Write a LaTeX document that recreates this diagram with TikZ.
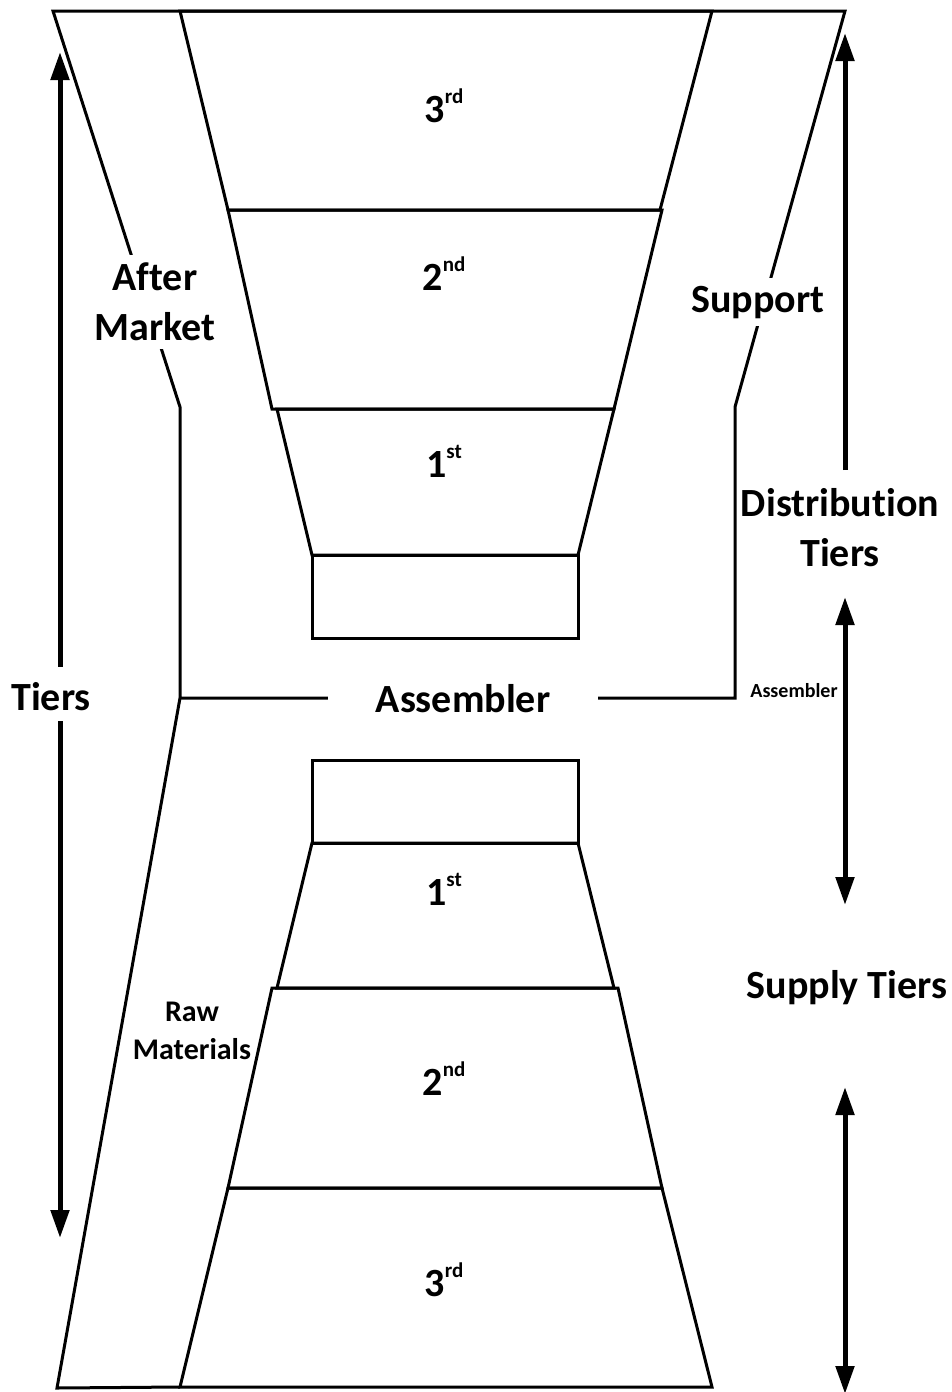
\documentclass[tikz,border=0pt]{standalone}
\usepackage{fontspec}
\setmainfont{Carlito}[Ligatures=NoCommon]
\usepackage{tikz}
\usetikzlibrary{arrows.meta}
\newcommand{\ordtier}[2]{#1\raisebox{9.5pt}{\fontsize{10.5}{12}\selectfont #2}}
\tikzset{
	>={Triangle[length=14pt,width=9pt]},
	outline/.style={black, line width=1.5pt, line join=miter},
	tierbox/.style={black, line width=1.5pt, line join=miter},
	span/.style={black, line width=2.5pt},
	tierlabel/.style={font=\fontsize{20}{24}\selectfont\bfseries, anchor=base, inner sep=0pt},
	biglabel/.style={font=\fontsize{20}{25}\selectfont\bfseries, align=center},
	cover/.style={fill=white, inner sep=4pt},
	smalllabel/.style={font=\fontsize{10}{12}\selectfont\bfseries, anchor=base, inner sep=0pt},
}

\begin{document}
\begin{tikzpicture}[x=0.5pt,y=-0.5pt]
	\useasboundingbox (0,0) rectangle (952,1392);
	
	% outer frame: after market on the left, support on the right
	\draw[outline] (180,1387) -- (57,1388) -- (180,698) -- (180,407) -- (53,11)
		-- (845,11) -- (735,407) -- (735,698) -- (180,698);
	
	% distribution tiers (top half)
	\draw[tierbox] (180,11) -- (712,11) -- (660,210) -- (228,210) -- cycle;
	\draw[tierbox] (228,210) -- (662,210) -- (614,409) -- (272,409) -- cycle;
	\draw[tierbox] (277,409) -- (614,409) -- (578,555) -- (312,555) -- cycle;
	\draw[tierbox] (312,555) rectangle (578,638);
	
	% supply tiers (bottom half)
	\draw[tierbox] (312,760) rectangle (578,843);
	\draw[tierbox] (312,843) -- (578,843) -- (614,988) -- (277,988) -- cycle;
	\draw[tierbox] (272,988) -- (618,988) -- (662,1188) -- (228,1188) -- cycle;
	\draw[tierbox] (228,1188) -- (662,1188) -- (712,1387) -- (180,1387) -- cycle;
	
	% tier numbers
	\node[tierlabel] (dthird)  at (444,122)  {\ordtier{3}{rd}};
	\node[tierlabel] (dsecond) at (444,290)  {\ordtier{2}{nd}};
	\node[tierlabel] (dfirst)  at (444,477)  {\ordtier{1}{st}};
	\node[tierlabel] (sfirst)  at (444,905)  {\ordtier{1}{st}};
	\node[tierlabel] (ssecond) at (444,1095) {\ordtier{2}{nd}};
	\node[tierlabel] (sthird)  at (444,1296) {\ordtier{3}{rd}};
	
	% labels sitting on the frame lines
	\node[biglabel, cover] (aftermarket) at (155,302) {After\\Market};
	\node[biglabel, cover, anchor=base] (support) at (758,312) {Support};
	\node[biglabel, cover, anchor=base, inner xsep=24pt] (assembler) at (463,712) {Assembler};
	\node[font=\fontsize{15}{19}\selectfont\bfseries, align=center, inner sep=0pt] (rawmat) at (192,1031) {Raw\\Materials};
	\node[smalllabel] (asmsmall) at (794,697) {Assembler};
	
	% side spans
	\node[biglabel, anchor=base] (tiers) at (51,710) {Tiers};
	\node[biglabel] (distribution) at (840,528) {Distribution\\Tiers};
	\node[biglabel, anchor=base] (supply) at (847,998) {Supply Tiers};
	
	\coordinate (tiers top) at (60,52);
	\coordinate (tiers bot) at (60,1238);
	\coordinate (dist top) at (845,33);
	\coordinate (dist bot) at (845,470);
	\coordinate (mid top) at (845,597);
	\coordinate (mid bot) at (845,905);
	\coordinate (sup top) at (845,1087);
	\coordinate (sup bot) at (845,1394);
	
	\draw[span,->] (tiers.north -| tiers top) ++(0,-8) -- (tiers top);
	\draw[span,->] (tiers.south -| tiers bot) ++(0,4) -- (tiers bot);
	\draw[span,->] (dist bot) -- (dist top);
	\draw[span,<->] (mid top) -- (mid bot);
	\draw[span,<->] (sup top) -- (sup bot);
\end{tikzpicture}
\end{document}
